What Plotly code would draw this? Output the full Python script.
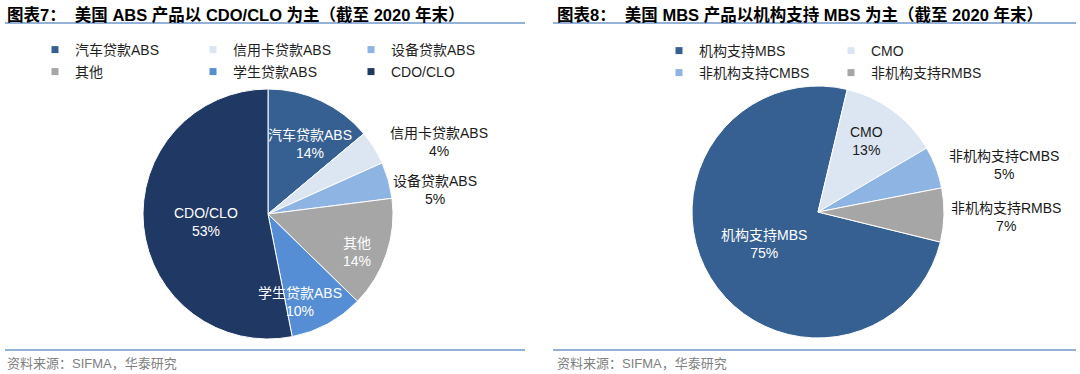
import math
import plotly.graph_objects as go

W, H = 1080, 374

# ---------------- data ----------------
abs_title = "图表7：  美国 ABS 产品以 CDO/CLO 为主（截至 2020 年末）"
abs_labels = ["汽车贷款ABS", "信用卡贷款ABS", "设备贷款ABS", "其他", "学生贷款ABS", "CDO/CLO"]
abs_values = [13.9, 4.4, 4.7, 14.3, 9.6, 53.1]

mbs_title = "图表8：  美国 MBS 产品以机构支持 MBS 为主（截至 2020 年末）"
mbs_labels = ["机构支持MBS", "CMO", "非机构支持CMBS", "非机构支持RMBS"]
mbs_values = [74.9, 12.8, 5.4, 6.9]

source_text = "资料来源：SIFMA，华泰研究"

# ---------------- styles ----------------
abs_colors = ["#376092", "#DCE6F2", "#8EB4E3", "#A6A6A6", "#558ED5", "#1F3864"]
mbs_colors = ["#376092", "#DCE6F2", "#8EB4E3", "#A6A6A6"]

FONT = "Liberation Sans, Arial, Noto Sans CJK SC, sans-serif"
DARK = "#1a1a1a"
WHITE = "#ffffff"
LINE_BLUE = "#6F97CC"

# label placement style per slice: (radius factor, angle nudge deg, anchor, colour)
abs_label_style = [(0.65, 6.0, "center", WHITE), (1.12, 1.0, "left", DARK),
                   (1.0, 4.7, "left", DARK), (0.77, 4.6, "center", WHITE),
                   (0.75, 8.4, "center", WHITE), (0.50, -1.8, "center", WHITE)]
mbs_label_style = [(0.50, 0.7, "center", WHITE), (0.68, -1.9, "center", DARK),
                   (1.09, 0.8, "left", DARK), (1.04, 0.9, "left", DARK)]

# pie geometry (pixels) and start rotation (deg clockwise from 12 o'clock)
abs_pie = dict(cx=268, cy=214, r=125, rot=0)
mbs_pie = dict(cx=818, cy=212, r=126, rot=103.8)

fig = go.Figure()


def px_x(v):
    return v / W


def px_y(v):
    return 1 - v / H


def add_pie(labels, values, colors, geo, styles):
    cx, cy, r = geo["cx"], geo["cy"], geo["r"]
    fig.add_trace(go.Pie(
        labels=labels, values=values, sort=False, direction="clockwise",
        rotation=geo["rot"], textinfo="none", showlegend=False,
        marker=dict(colors=colors, line=dict(color="#ffffff", width=1)),
        domain=dict(x=[px_x(cx - r), px_x(cx + r)], y=[px_y(cy + r), px_y(cy - r)]),
        hovertemplate="%{label}: %{percent}<extra></extra>",
    ))
    total = sum(values)
    cum = 0.0
    for lab, v, (rf, nudge, anchor, col) in zip(labels, values, styles):
        mid = geo["rot"] + (cum + v / 2) / total * 360 + nudge
        cum += v
        a = math.radians(mid)
        x = cx + rf * r * math.sin(a)
        y = cy - rf * r * math.cos(a)
        pct = round(v / total * 100)
        fig.add_annotation(
            x=px_x(x), y=px_y(y), xref="paper", yref="paper",
            text=f"{lab}<br>{pct:.0f}%", showarrow=False,
            xanchor=anchor, yanchor="middle", align="center",
            font=dict(family=FONT, size=14, color=col),
        )


add_pie(abs_labels, abs_values, abs_colors, abs_pie, abs_label_style)
add_pie(mbs_labels, mbs_values, mbs_colors, mbs_pie, mbs_label_style)


# legend entries (rows of categories, native legends)
def add_legend_rows(labels, colors, per_row, legend_names):
    for i, (lab, col) in enumerate(zip(labels, colors)):
        fig.add_trace(go.Scatter(
            x=[None], y=[None], mode="markers", name=lab,
            marker=dict(symbol="square", size=7, color=col),
            legend=legend_names[i // per_row], showlegend=True, hoverinfo="skip",
        ))


add_legend_rows(abs_labels, abs_colors, 3, ["legend", "legend2"])
add_legend_rows(mbs_labels, mbs_colors, 2, ["legend3", "legend4"])

leg_common = dict(orientation="h", xanchor="left", yanchor="middle",
                  entrywidthmode="pixels", bgcolor="rgba(0,0,0,0)",
                  font=dict(family=FONT, size=14, color="#1f1f1f"),
                  itemclick=False, itemdoubleclick=False, tracegroupgap=0)
legend_pos = {
    "legend": (35, 50, 113),
    "legend2": (35, 72, 113),
    "legend3": (659, 51, 127),
    "legend4": (659, 73, 127),
}
for name, (lx, ly, ew) in legend_pos.items():
    fig.update_layout({name: dict(leg_common, x=px_x(lx), y=px_y(ly), entrywidth=ew)})

# titles, rules and sources
for x0, x1, title, tsize in [(5, 525, abs_title, 16.5), (555, 1076, mbs_title, 16.5)]:
    fig.add_annotation(x=px_x(x0), y=px_y(14), xref="paper", yref="paper",
                       text=f"<b>{title}</b>", showarrow=False,
                       xanchor="left", yanchor="middle",
                       font=dict(family=FONT, size=tsize, color="#000000"))
    fig.add_annotation(x=px_x(x0), y=px_y(363), xref="paper", yref="paper",
                       text=source_text, showarrow=False,
                       xanchor="left", yanchor="middle",
                       font=dict(family=FONT, size=13, color="#7F7F7F"))
    for yy in (23, 350):
        fig.add_shape(type="line", xref="paper", yref="paper",
                      x0=px_x(x0 - 2 if x0 > 100 else x0), x1=px_x(x1),
                      y0=px_y(yy), y1=px_y(yy),
                      line=dict(color=LINE_BLUE, width=1.5))

fig.update_layout(
    width=W, height=H, margin=dict(l=0, r=0, t=0, b=0),
    paper_bgcolor="#ffffff", plot_bgcolor="#ffffff",
    xaxis=dict(visible=False), yaxis=dict(visible=False),
    font=dict(family=FONT),
)

fig.write_html("out.html", config={"displayModeBar": False},
               post_script="document.body.style.margin='0';document.body.style.overflow='hidden';")
